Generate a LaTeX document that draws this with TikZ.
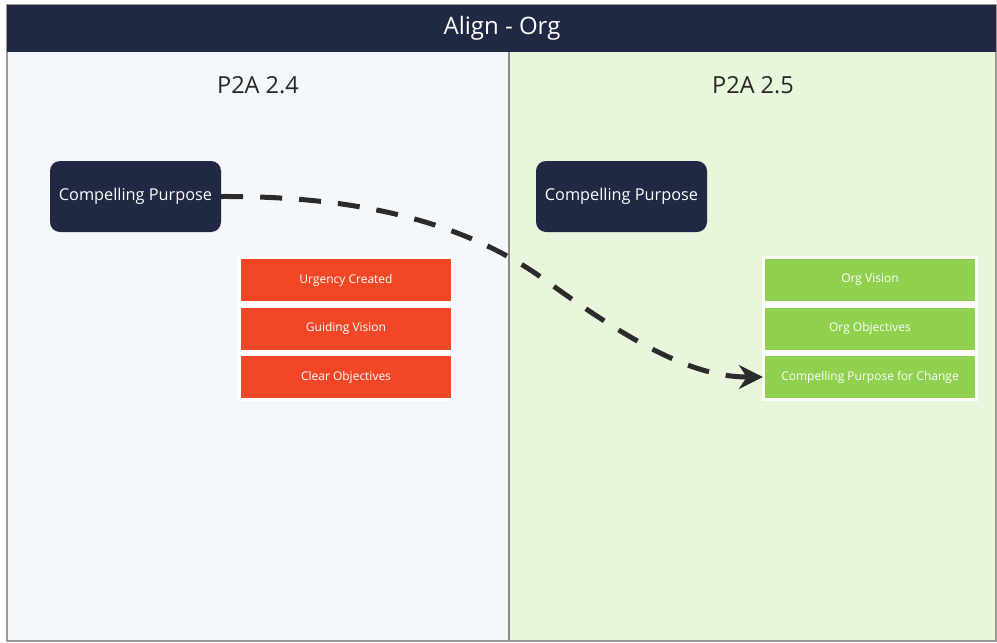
\documentclass[tikz,border=0pt]{standalone}
\usepackage{fontspec}
\setmainfont{Open Sans}
\usetikzlibrary{arrows.meta}
\definecolor{navy}{HTML}{202843}
\definecolor{redbox}{HTML}{F24726}
\definecolor{greenbox}{HTML}{8FD14F}
\definecolor{leftbg}{HTML}{F4F8FB}
\definecolor{rightbg}{HTML}{E8F6DB}
\definecolor{framegray}{HTML}{9A9A9A}
\definecolor{arrowc}{HTML}{2B2B2B}
\tikzset{
  purpose/.style={fill=navy, rounded corners=10pt, minimum width=171pt, minimum height=71pt, inner sep=0pt, text=white, font=\fontsize{16.3}{19}\selectfont},
  redstep/.style={fill=redbox, minimum width=210pt, minimum height=42pt, inner sep=0pt, text=white, font=\fontsize{12}{14}\selectfont},
  greenstep/.style={fill=greenbox, minimum width=210pt, minimum height=42pt, inner sep=0pt, text=white, font=\fontsize{12}{14}\selectfont},
  paneltitle/.style={text=black!85, font=\fontsize{23.5}{27}\selectfont},
  flow/.style={draw=arrowc, line width=5pt, dash pattern=on 22pt off 17pt, shorten >=2pt, -{Stealth[length=24pt,width=24pt,inset=8pt,line width=0.5pt]}}
}
\begin{document}
\begin{tikzpicture}[x=1pt,y=-1pt]
\useasboundingbox (0,0) rectangle (997,643);
\fill[white] (0,0) rectangle (997,643);
% panels
\fill[leftbg] (7,52) rectangle (509,641);
\fill[rightbg] (509,52) rectangle (996,641);
\draw[framegray, line width=1.5pt] (7,5) rectangle (996,641);
\draw[framegray!90!black, line width=2pt] (509,52) -- (509,641);
% header
\fill[navy] (7,5) rectangle (996,52);
\node[text=white, font=\fontsize{24}{28}\selectfont] (title) at (502,28) {Align - Org};
\node[paneltitle] (p24) at (258,85) {P2A 2.4};
\node[paneltitle] (p25) at (753,85) {P2A 2.5};
% compelling purpose boxes
\node[purpose] (cpl) at (135.5,196.5) {Compelling Purpose};
\node[purpose] (cpr) at (621.5,196.5) {Compelling Purpose};
% red group
\fill[white] (237,256) rectangle (453,401);
\node[redstep] (r1) at (346,280) {Urgency Created};
\node[redstep] (r2) at (346,328.5) {Guiding Vision};
\node[redstep] (r3) at (346,377) {Clear Objectives};
% green group
\fill[white] (762,256) rectangle (978,401);
\node[greenstep] (g1) at (870,280) {Org Vision};
\node[greenstep] (g2) at (870,328.5) {Org Objectives};
\node[greenstep] (g3) at (870,377) {Compelling Purpose for Change};
% connector
\coordinate (mid) at (545,280);
\draw[flow] (cpl.east) .. controls (340,196) and (455,215) .. (mid) .. controls (625,338) and (690,377) .. (g3.west);
\end{tikzpicture}
\end{document}
